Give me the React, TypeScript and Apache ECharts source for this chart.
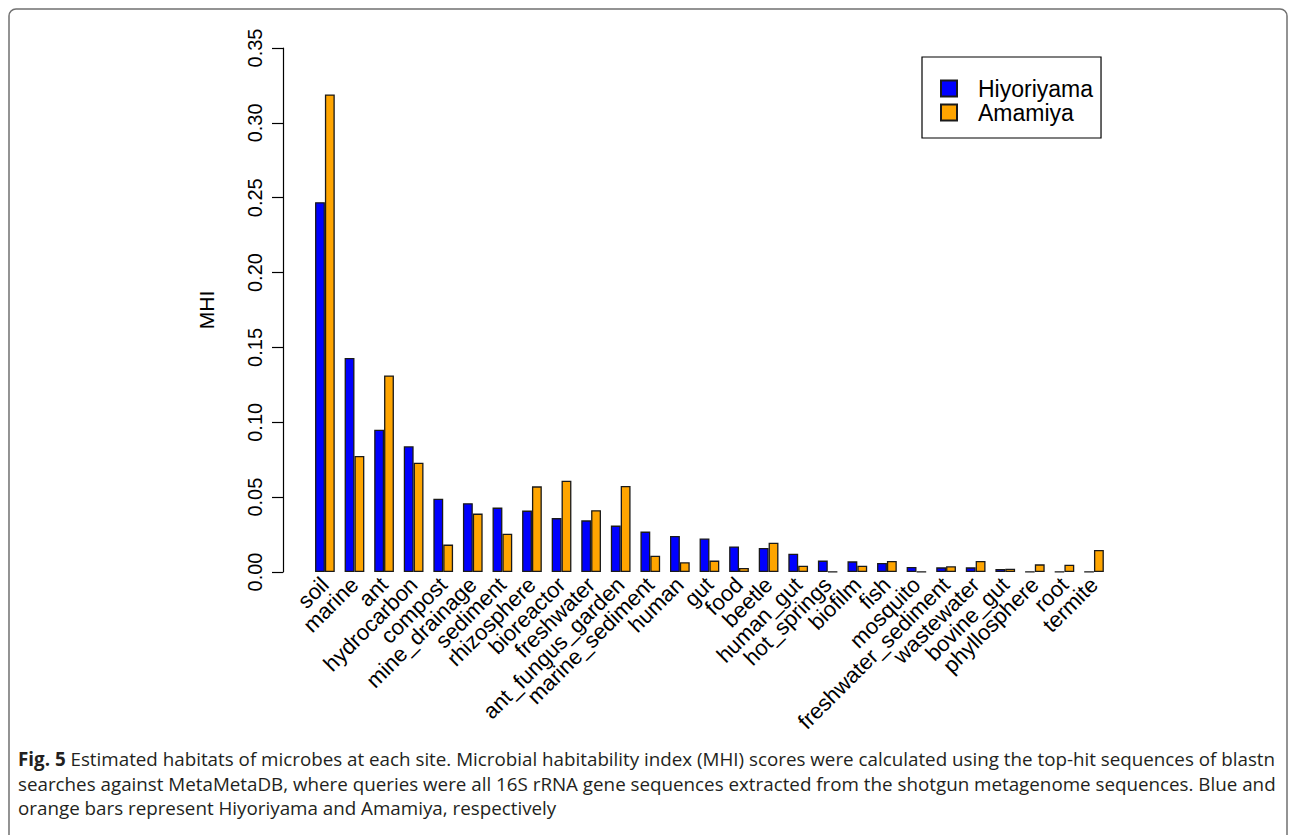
import React, { useEffect, useRef } from "react";
import * as echarts from "echarts";

const categories = [
  "soil", "marine", "ant", "hydrocarbon", "compost", "mine_drainage", "sediment",
  "rhizosphere", "bioreactor", "freshwater", "ant_fungus_garden", "marine_sediment",
  "human", "gut", "food", "beetle", "human_gut", "hot_springs", "biofilm", "fish",
  "mosquito", "freshwater_sediment", "wastewater", "bovine_gut", "phyllosphere",
  "root", "termite",
];

const hiyoriyama = [
  0.247, 0.143, 0.095, 0.084, 0.049, 0.046, 0.043, 0.041, 0.036, 0.0345, 0.031,
  0.027, 0.024, 0.0224, 0.0171, 0.016, 0.0122, 0.0076, 0.0071, 0.006, 0.0033,
  0.0031, 0.0031, 0.002, 0.0002, 0.0002, 0.0001,
];

const amamiya = [
  0.319, 0.0775, 0.1313, 0.073, 0.0183, 0.039, 0.0256, 0.0572, 0.061, 0.0413,
  0.0574, 0.0109, 0.0065, 0.0076, 0.0027, 0.0196, 0.0042, 0.0003, 0.0042, 0.0073,
  0.0002, 0.0038, 0.0073, 0.0022, 0.0051, 0.0049, 0.0147,
];

const seriesNames = ["Hiyoriyama", "Amamiya"];
const yTicks = { min: 0, max: 0.35, interval: 0.05 };
const yAxisTitle = "MHI";

const captionLines = [
  "{b|Fig. 5} Estimated habitats of microbes at each site. Microbial habitability index (MHI) scores were calculated using the top-hit sequences of blastn",
  "searches against MetaMetaDB, where queries were all 16S rRNA gene sequences extracted from the shotgun metagenome sequences. Blue and",
  "orange bars represent Hiyoriyama and Amamiya, respectively",
];

export default function App() {
  const ref = useRef<HTMLDivElement>(null);

  useEffect(() => {
    document.body.style.margin = "0";
    const chart = echarts.init(ref.current!, null, { renderer: "svg" });
    const barW = 9.86;
    const axisX = 283;
    const gridLeft = 324.9 - barW * 1.5;
    const gridWidth = categories.length * barW * 3;
    const font = "Liberation Sans, Arial, Helvetica, sans-serif";
    const capFont = "Open Sans, Noto Sans, sans-serif";

    chart.setOption({
      animation: false,
      backgroundColor: "#ffffff",
      grid: {
        left: gridLeft,
        width: gridWidth,
        top: 48,
        bottom: 263,
        containLabel: false,
      },
      legend: {
        orient: "vertical",
        left: 922,
        top: 57,
        width: 178,
        padding: [20, 8, 14, 18],
        itemGap: 1,
        itemWidth: 16,
        itemHeight: 16,
        icon: "rect",
        borderColor: "#000",
        borderWidth: 1.2,
        textStyle: {
          fontFamily: font,
          fontSize: 23,
          color: "#000",
          padding: [0, 0, 0, 16],
          lineHeight: 23,
        },
        data: seriesNames,
      },
      xAxis: {
        type: "category",
        data: categories,
        axisLine: { show: false },
        axisTick: { show: false },
        axisLabel: {
          rotate: 45,
          interval: 0,
          margin: 9,
          fontFamily: font,
          fontSize: 22,
          color: "#000",
        },
      },
      yAxis: {
        type: "value",
        min: yTicks.min,
        max: yTicks.max,
        interval: yTicks.interval,
        offset: gridLeft - axisX,
        name: yAxisTitle,
        nameLocation: "middle",
        nameRotate: 90,
        nameGap: 66,
        nameTextStyle: { fontFamily: font, fontSize: 21, color: "#000" },
        splitLine: { show: false },
        axisLine: { show: true, lineStyle: { color: "#000", width: 1.2 } },
        axisTick: { show: true, length: 11, lineStyle: { color: "#000", width: 1.2 } },
        axisLabel: {
          rotate: 90,
          margin: 18,
          fontFamily: font,
          fontSize: 20,
          color: "#000",
          formatter: (v: number) => v.toFixed(2),
        },
      },
      series: [
        {
          name: seriesNames[0],
          type: "bar",
          data: hiyoriyama,
          barWidth: barW,
          barGap: "0%",
          itemStyle: { color: "#0000ff", borderColor: "#1a1a1a", borderWidth: 1.3 },
        },
        {
          name: seriesNames[1],
          type: "bar",
          data: amamiya,
          barWidth: barW,
          barGap: "0%",
          itemStyle: { color: "#ffa500", borderColor: "#1a1a1a", borderWidth: 1.3 },
        },
      ],
      graphic: [
        {
          type: "rect",
          shape: { x: 9, y: 9, width: 1278, height: 900, r: 7 },
          style: { fill: "none", stroke: "#707070", lineWidth: 1.5 },
          silent: true,
        },
        ...captionLines.map((line, i) => ({
          type: "text",
          x: 18,
          y: 759 + i * 24.5,
          style: {
            text: line,
            fontFamily: capFont,
            fontSize: 18.8,
            fill: "#231f20",
            verticalAlign: "middle",
            rich: {
              b: {
                fontFamily: capFont,
                fontSize: 18.8,
                fontWeight: "bold",
                fill: "#231f20",
              },
            },
          },
        })),
      ],
    });
    return () => chart.dispose();
  }, []);

  return <div ref={ref} style={{ width: 1295, height: 835 }} />;
}
